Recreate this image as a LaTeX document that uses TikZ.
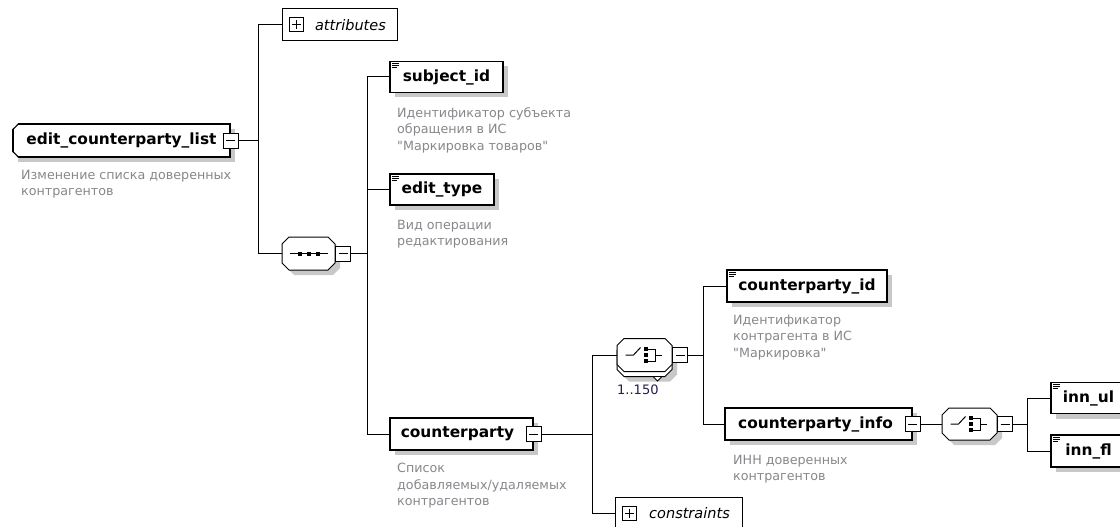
\documentclass[tikz,border=0pt]{standalone}
\usepackage{fontspec}
\setmainfont{DejaVu Sans}
\usetikzlibrary{calc,shadows}

\definecolor{desctext}{RGB}{135,135,140}
\definecolor{occtext}{RGB}{35,30,75}
\definecolor{shadegray}{RGB}{200,200,200}

% small icons, drawn on top of named nodes
\def\contenticon#1{\draw[line width=0.9pt] ([shift={(3,2.5)}]#1.north west) -- ++(7,0)
	([shift={(3,4.5)}]#1.north west) -- ++(7,0) ([shift={(3,6.5)}]#1.north west) -- ++(5,0);}
\def\expandicon#1{\draw[line width=1pt, fill=white] ([shift={(8,-7)}]#1.west) rectangle ++(14,14);
	\draw[line width=1pt] ([shift={(10.5,0)}]#1.west) -- ++(9,0) ([shift={(15,-4.5)}]#1.west) -- ++(0,9);}
\def\octshade#1#2#3{\fill[shadegray, shift={(#1.center)}, shift={(5,5)}] (-#2+7,-#3) -- (#2-7,-#3) -- (#2,-#3+7)
	-- (#2,#3-7) -- (#2-7,#3) -- (-#2+7,#3) -- (-#2,#3-7) -- (-#2,-#3+7) -- cycle;}
\def\octframe#1#2#3{\draw[line width=1pt, fill=white, shift={(#1.center)}] (-#2+7,-#3) -- (#2-7,-#3) -- (#2,-#3+7)
	-- (#2,#3-7) -- (#2-7,#3) -- (-#2+7,#3) -- (-#2,#3-7) -- (-#2,-#3+7) -- cycle;}
\def\seqicon#1{\begin{scope}[shift={(#1.center)}, line width=1pt]
		\draw (-19,0) -- (19,0);
		\foreach \dx in {-9,0,9}
			\fill[black] (\dx-2,-2) rectangle (\dx+2,2);
	\end{scope}}
\def\choiceicon#1{\begin{scope}[shift={(#1.center)}, line width=1pt]
		\draw (-19,0) -- (-11,0) -- (-4,-7.5);
		\fill[black] (-1,-8) rectangle (3,-4);
		\fill[black] (-1,-2) rectangle (3,2);
		\fill[black] (-1,4) rectangle (3,8);
		\draw (3,-6) -- (10.5,-6) -- (10.5,6) -- (3,6);
		\draw (10.5,0) -- (17.5,0);
	\end{scope}}

\tikzset{
	conn/.style={line width=1pt},
	shade5/.style={drop shadow={shadow xshift=5pt, shadow yshift=-5pt, fill=shadegray, opacity=1}},
	elem/.style={draw, line width=1.1pt, fill=white, inner sep=0pt, minimum height=32pt,
		font=\fontsize{15.4}{18}\selectfont\bfseries, shade5},
	toggle/.style={draw, line width=1pt, fill=white, minimum size=15pt, inner sep=0pt,
		path picture={\draw[line width=1pt] ([xshift=3pt]path picture bounding box.west) -- ([xshift=-3pt]path picture bounding box.east);}},
	group/.style={draw, line width=1pt, fill=white, inner sep=0pt, minimum height=32pt,
		font=\fontsize{14.5}{17}\selectfont\itshape},
	compositor/.style={inner sep=0pt, outer sep=0pt, minimum width=55pt, minimum height=33pt},
	desc/.style={anchor=north west, inner sep=0pt, align=left, text=desctext,
		font=\fontsize{12.7}{16.5}\selectfont},
}

\begin{document}
\begin{tikzpicture}[x=1pt, y=-1pt]
	%%%%% START %%%%%
	\useasboundingbox (0,0) rectangle (1120,527);
	\clip (0,0) rectangle (1120,527);

	% root element
	\node[elem, minimum width=217pt, minimum height=33pt] (ecl) at (121.5,140.5) {edit\_counterparty\_list};
	\fill[white] ([shift={(-1,-1)}]ecl.north west) -- ([shift={(6.5,-1)}]ecl.north west) -- ([shift={(-1,6.5)}]ecl.north west) -- cycle;
	\fill[white] ([shift={(-1,1)}]ecl.south west) -- ([shift={(6.5,1)}]ecl.south west) -- ([shift={(-1,-6.5)}]ecl.south west) -- cycle;
	\draw[line width=1.1pt] ([shift={(6,0.5)}]ecl.north west) -- ([shift={(0.5,6)}]ecl.north west)
		([shift={(6,-0.5)}]ecl.south west) -- ([shift={(0.5,-6)}]ecl.south west);
	\node[toggle] (ecl-tog) at (ecl.east) {};
	\node[desc] (ecl-desc) at (21,170) {Изменение списка доверенных\\контрагентов};

	\node[group, minimum width=115pt] (attr) at (339.5,25) {\hspace*{22pt}attributes};
	\expandicon{attr}

	% sequence
	\node[compositor, minimum width=53pt] (seq) at (308.5,253.5) {};
	\octshade{seq}{26.5}{16.5}
	\octframe{seq}{26.5}{16.5}
	\seqicon{seq}
	\node[toggle, anchor=west] (seq-tog) at (seq.east) {};

	\node[elem, minimum width=113pt, minimum height=31pt] (subj) at (446.5,77) {subject\_id};
	\contenticon{subj}
	\node[desc] (subj-desc) at (397,107) {Идентификатор субъекта\\обращения в ИС\\\textquotedbl Маркировка товаров\textquotedbl};

	\node[elem, minimum width=104pt, minimum height=31pt] (etype) at (442,189.5) {edit\_type};
	\contenticon{etype}
	\node[desc] (etype-desc) at (397,220) {Вид операции\\редактирования};

	\node[elem, minimum width=143pt] (cp) at (461.5,434) {counterparty\hspace*{8pt}};
	\node[toggle] (cp-tog) at (cp.east) {};
	\node[desc] (cp-desc) at (397,463) {Список\\добавляемых/удаляемых\\контрагентов};

	% choice 1..150
	\coordinate (choice1-back) at (644.5,360);
	\node[compositor] (choice1) at (644.5,355) {};
	\octshade{choice1-back}{27.5}{16.5}
	\octshade{choice1}{27.5}{16.5}
	\octframe{choice1-back}{27.5}{16.5}
	\draw[line width=0.8pt, fill=white] (653,376.5) -- (662,376.5) -- (657.5,381) -- cycle;
	\octframe{choice1}{27.5}{16.5}
	\choiceicon{choice1}
	\node[toggle, anchor=west] (choice1-tog) at (choice1.east) {};
	\node[anchor=north west, inner sep=0pt, text=occtext, font=\fontsize{13}{15}\selectfont] (occurs) at (617,385) {1..150};

	\node[group, minimum width=127pt] (cons) at (678.5,513) {\hspace*{22pt}constraints};
	\expandicon{cons}

	\node[elem, minimum width=160pt] (cpid) at (807,286) {counterparty\_id};
	\contenticon{cpid}
	\node[desc] (cpid-desc) at (733,315) {Идентификатор\\контрагента в ИС\\\textquotedbl Маркировка\textquotedbl};

	\node[elem, minimum width=187pt] (cpinfo) at (818.5,424) {counterparty\_info\hspace*{6pt}};
	\node[toggle] (cpinfo-tog) at (cpinfo.east) {};
	\node[desc] (cpinfo-desc) at (733,455) {ИНН доверенных\\контрагентов};

	% choice
	\node[compositor, minimum height=32pt] (choice2) at (969.5,424) {};
	\octshade{choice2}{27.5}{16}
	\octframe{choice2}{27.5}{16}
	\choiceicon{choice2}
	\node[toggle, anchor=west] (choice2-tog) at (choice2.east) {};

	\node[elem, minimum width=75pt, minimum height=31pt] (innul) at (1088.5,398) {inn\_ul};
	\contenticon{innul}
	\node[elem, minimum width=75pt] (innfl) at (1088.5,451) {inn\_fl};
	\contenticon{innfl}

	% connectors
	\coordinate (bus-root) at (258,0);
	\coordinate (bus-seq) at (367,0);
	\coordinate (bus-cp) at (592,0);
	\coordinate (bus-ch) at (703,0);
	\coordinate (bus-inn) at (1027,0);

	\draw[conn] (ecl-tog.east) -- (bus-root |- ecl-tog.east);
	\draw[conn] (attr.west) -| (bus-root |- seq.west) -- (seq.west);

	\draw[conn] (seq-tog.east) -- (bus-seq |- seq-tog.east);
	\draw[conn] (subj.west) -| (bus-seq |- cp.west) -- (cp.west);
	\draw[conn] (etype.west) -- (bus-seq |- etype.west);

	\draw[conn] (cp-tog.east) -- (bus-cp |- cp-tog.east);
	\draw[conn] (choice1.west) -| (bus-cp |- cons.west) -- (cons.west);

	\draw[conn] (choice1-tog.east) -- (bus-ch |- choice1-tog.east);
	\draw[conn] (cpid.west) -| (bus-ch |- cpinfo.west) -- (cpinfo.west);

	\draw[conn] (cpinfo-tog.east) -- (choice2.west);

	\draw[conn] (choice2-tog.east) -- (bus-inn |- choice2-tog.east);
	\draw[conn] (innul.west) -| (bus-inn |- innfl.west) -- (innfl.west);
	%%%%% END %%%%%
\end{tikzpicture}
\end{document}
